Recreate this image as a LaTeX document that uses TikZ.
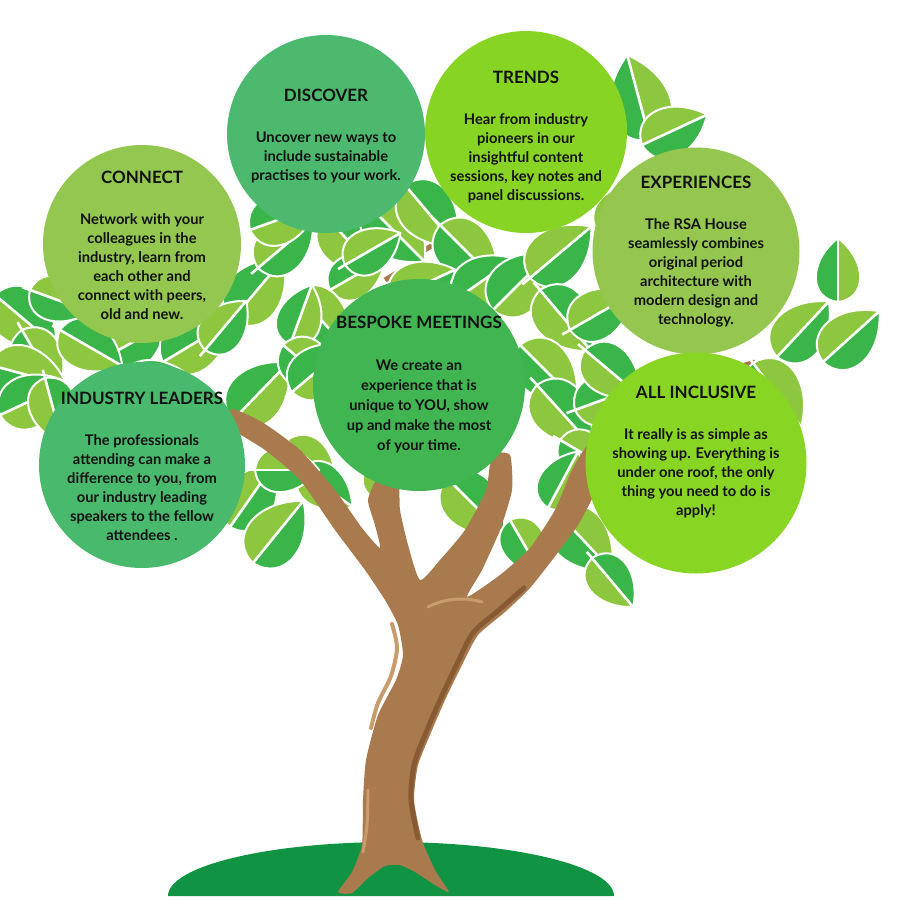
\documentclass[tikz,border=0pt]{standalone}
\usepackage{fontspec}
\setmainfont{Lato}
\usepackage{tikz}
\usetikzlibrary{positioning}
\definecolor{discovercol}{HTML}{4CB96F}
\definecolor{connectcol}{HTML}{93C750}
\definecolor{trendscol}{HTML}{87D425}
\definecolor{experiencecol}{HTML}{94C650}
\definecolor{bespokecol}{HTML}{40B551}
\definecolor{leaderscol}{HTML}{49B96D}
\definecolor{inclusivecol}{HTML}{88D523}
\definecolor{leafdark}{HTML}{3AB54A}
\definecolor{leaflight}{HTML}{8DC63F}
\definecolor{bark}{HTML}{A87A4E}
\definecolor{barkdark}{HTML}{885A34}
\definecolor{barklight}{HTML}{C89C6C}
\definecolor{ground}{HTML}{109443}
\tikzset{bubble/.style={circle, inner sep=0pt, minimum size=#1}}
\tikzset{blurb/.style={align=center, text=black!93, font=\fontsize{14.7}{19}\selectfont\bfseries}}
\tikzset{leaf/.pic={
    \fill[leafdark] (0,0) .. controls (4,-36) and (50,-38) .. (80,0) -- cycle;
    \fill[leaflight] (0,0) .. controls (4,36) and (50,38) .. (80,0) -- cycle;
    \draw[white, line width=2pt, line join=round] (0,0) .. controls (4,-36)
      and (50,-38) .. (80,0) .. controls (50,38) and (4,36) .. (0,0);
    \draw[white, line width=2.6pt] (-10,0) -- (80,0);
  }}
\newcommand{\bubblehead}[1]{{\fontsize{17}{19}\selectfont #1}}

\begin{document}
\begin{tikzpicture}[x=1pt, y=-1pt]
  \useasboundingbox (0,0) rectangle (900,900);
  \fill[white] (0,0) rectangle (900,900);

  % ground
  \fill[ground] (614,896) arc[start angle=0, end angle=-180, x radius=223, y radius=54];

  % twigs in the crown
  \draw[bark, line width=5pt] (385,280) -- (405,268);
  \draw[bark, line width=5pt] (425,250) -- (440,240);
  \draw[bark, line width=4pt] (35,382) -- (60,379);
  \draw[bark, line width=5pt] (735,368) -- (755,362);

  % leaves: x/y/angle/scale/flip
  \foreach \x/\y/\a/\s/\f in {
      650/140/105/1.1/1, 642/145/25/0.9/-1, 605/150/100/0.9/-1,
      640/200/30/0.9/1, 600/235/45/0.9/-1,
      838/302/90/0.8/1, 777/357/47/0.95/-1, 823/362/42/0.95/-1,
      753/363/-53/1.0/-1,
      325/215/-48/1.0/1, 368/205/-45/1.0/-1, 405/185/-50/1.0/1,
      440/225/-45/1.0/-1, 455/300/35/0.9/1, 390/300/25/0.9/-1,
      330/290/30/0.8/1, 345/265/30/0.8/-1,
      232/320/50/1.0/1, 295/292/-47/1.0/-1, 258/268/40/0.9/-1,
      250/230/20/0.9/1, 290/345/70/0.8/1,
      493/310/45/1.0/1, 530/278/40/1.0/-1, 540/290/-50/1.0/1,
      520/345/-45/1.0/-1, 537/385/-48/1.0/1, 570/330/30/0.9/-1,
      575/410/20/0.9/1, 585/350/-40/0.9/1, 560/440/-30/0.8/-1,
      233/420/46/1.0/1, 283/345/-40/0.9/-1, 292/392/40/0.9/1,
      287/440/-50/0.9/-1, 230/527/55/0.95/-1, 253/563/51/1.0/-1,
      300/470/-35/0.8/1, 255/470/0/0.8/-1,
      447/478/-45/1.0/1, 372/497/60/0.7/-1, 557/512/-47/1.0/-1,
      548/508/62/0.8/1, 592/558/-50/0.8/1, 510/520/-60/0.8/-1,
      97/362/29/1.0/-1, 163/362/31/1.0/1, 205/350/50/0.8/-1,
      120/390/10/0.9/1,
      -5/295/-40/1.0/1, 22/330/-60/0.9/-1, -10/365/-15/1.0/-1,
      0/415/25/0.95/1, 45/378/-75/0.85/1, 60/330/-30/0.9/1,
      30/290/-20/0.8/-1}
    \pic[rotate=\a, scale=\s, yscale=\f] at (\x,\y) {leaf};

  % trunk and branches
  \fill[bark] plot[smooth cycle, tension=0.35] coordinates {
      (338,892) (352,872) (362,845) (363,800) (366,760) (378,715) (396,680)
      (403,655) (398,625) (385,600) (365,570) (335,530) (300,480) (265,450)
      (225,424) (232,409) (262,422) (300,450) (335,490) (362,528) (380,548)
      (375,525) (368,500) (378,478) (398,480) (400,510) (408,545) (420,580)
      (440,560) (465,530) (486,490) (492,455) (510,455) (512,490) (500,530)
      (482,570) (467,597) (500,575) (530,548) (555,510) (572,470) (588,445)
      (603,455) (596,490) (578,525) (556,555) (530,588) (505,612) (478,635)
      (462,665) (445,700) (430,735) (418,765) (414,800) (422,840) (435,870)
      (449,892) (435,885) (415,872) (400,865) (385,866) (368,878) (352,893)};
  \draw[barkdark, line width=5pt, line cap=round] plot[smooth] coordinates {
      (524,588) (499,610) (473,633) (457,664) (440,700) (425,735) (414,765)
      (411,800) (418,838)};
  \draw[barklight, line width=4pt, line cap=round] plot[smooth] coordinates {
      (392,624) (397,648) (391,676) (378,703) (371,728)};
  \draw[barklight, line width=3pt, line cap=round] plot[smooth] coordinates {
      (368,790) (367,825) (363,852)};
  \draw[barklight, line width=3pt, line cap=round]
    (428,607) .. controls (445,598) and (465,597) .. (482,602);

  % bubbles
  \node[bubble=198, fill=discovercol] (discover) at (326,134) {};
  \node[bubble=198, fill=connectcol] (connect) at (142,244) {};
  \node[bubble=202, fill=trendscol] (trends) at (526,132) {};
  \node[bubble=207, fill=experiencecol] (experiences) at (696,251) {};
  \node[bubble=212, fill=bespokecol] (bespoke) at (419,385) {};
  \node[bubble=206, fill=leaderscol] (leaders) at (142,465) {};
  \node[bubble=221, fill=inclusivecol] (inclusive) at (696,463) {};

  \node[blurb, yshift=-2pt] (discover txt) at (discover) {\bubblehead{DISCOVER}\\[22pt]
    Uncover new ways to\\ include sustainable\\ practises to your work.};
  \node[blurb, yshift=-1pt] (connect txt) at (connect) {\bubblehead{CONNECT}\\[22pt]
    Network with your\\ colleagues in the\\ industry, learn from\\
    each other and\\ connect with peers,\\ old and new.};
  \node[blurb, yshift=-5pt] (trends txt) at (trends) {\bubblehead{TRENDS}\\[22pt]
    Hear from industry\\ pioneers in our\\ insightful content\\
    sessions, key notes and\\ panel discussions.};
  \node[blurb, yshift=-1pt] (experiences txt) at (experiences) {\bubblehead{EXPERIENCES}\\[22pt]
    The RSA House\\ seamlessly combines\\ original period\\
    architecture with\\ modern design and\\ technology.};
  \node[blurb] (bespoke txt) at (bespoke) {\bubblehead{BESPOKE MEETINGS}\\[23pt]
    We create an\\[1pt] experience that is\\[1pt] unique to YOU, show\\[1pt]
    up and make the most\\[1pt] of your time.};
  \node[blurb, yshift=-1pt] (leaders txt) at (leaders) {\bubblehead{INDUSTRY LEADERS}\\[22pt]
    The professionals\\ attending can make a\\ difference to you, from\\
    our industry leading\\ speakers to the fellow\\ attendees .};
  \node[blurb, yshift=11pt] (inclusive txt) at (inclusive) {\bubblehead{ALL INCLUSIVE}\\[22pt]
    It really is as simple as\\ showing up. Everything is\\
    under one roof, the only\\ thing you need to do is\\ apply!};
\end{tikzpicture}
\end{document}
